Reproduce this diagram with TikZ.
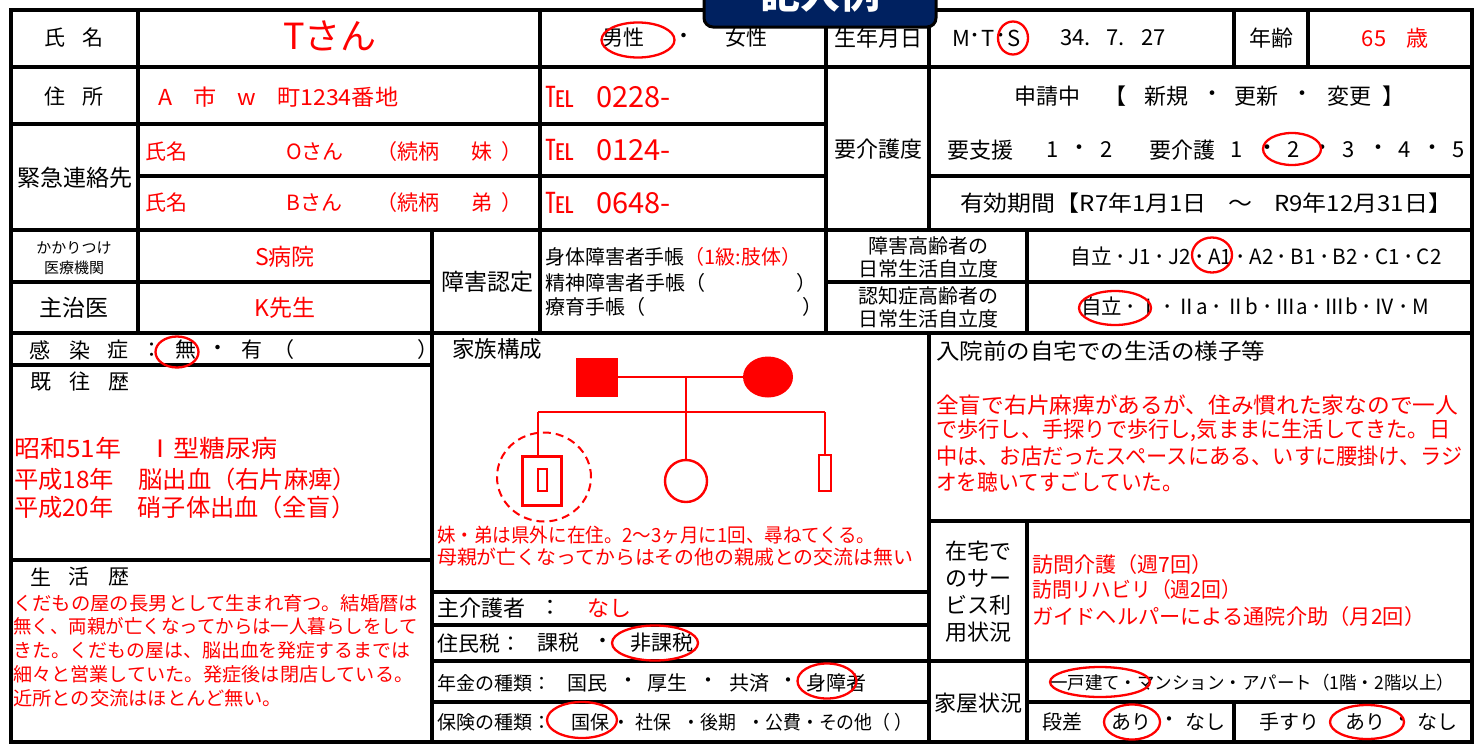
\documentclass[tikz,border=0pt]{standalone}
\usepackage{fontspec}
\usepackage{graphicx}
\setmainfont{Noto Sans CJK JP}
\usetikzlibrary{shapes.geometric}
\definecolor{rd}{RGB}{255,0,0}
\definecolor{navy}{RGB}{0,33,96}
\newcommand{\fsz}[1]{\fontsize{#1pt}{#1pt}\selectfont}
\newcommand{\fsl}[2]{\fontsize{#1pt}{#2pt}\selectfont}
\newcommand{\fw}[2]{\resizebox{#1pt}{\height}{#2}}
\begin{document}
\begin{tikzpicture}[x=1pt,y=-1pt,
 bk/.style={inner sep=0pt,text=black},
 rt/.style={inner sep=0pt,text=rd},
 oval/.style={ellipse,draw=rd,line width=2.3pt,inner sep=0pt},
 grid/.style={line width=3.2pt,line cap=rect},
 geno/.style={draw=rd,line width=2.4pt},
]
\useasboundingbox (0,0) rectangle (1482,744);
\fill[white] (0,0) rectangle (1482,744);
\begin{scope}
\clip (0,0) rectangle (1482,744);
% ---------- grid ----------
\draw[grid] (11,67) -- (1472,67);
\draw[grid] (11,124) -- (826,124);
\draw[grid] (138,176) -- (826,176);
\draw[grid] (929,176) -- (1472,176);
\draw[grid] (11,230) -- (1472,230);
\draw[grid] (11,282) -- (432,282);
\draw[grid] (826,282) -- (1472,282);
\draw[grid] (11,333) -- (1472,333);
\draw[grid] (138,10) -- (138,333);
\draw[grid] (540,10) -- (540,333);
\draw[grid] (826,10) -- (826,333);
\draw[grid] (929,10) -- (929,230);
\draw[grid] (1027,230) -- (1027,333);
\draw[grid] (1234,10) -- (1234,67);
\draw[grid] (1308,10) -- (1308,67);
\draw[grid] (432,230) -- (432,742);
\draw[grid] (929,333) -- (929,742);
\draw[grid] (11,365) -- (432,365);
\draw[grid] (11,560) -- (432,560);
\draw[grid] (432,592) -- (929,592);
\draw[grid] (432,625) -- (929,625);
\draw[grid] (432,661) -- (1472,661);
\draw[grid] (432,702) -- (929,702);
\draw[grid] (929,521) -- (1472,521);
\draw[grid] (1027,521) -- (1027,742);
\draw[grid] (1027,702) -- (1472,702);
\draw[grid] (1234,702) -- (1234,742);
\draw[line width=4.5pt] (11,10) rectangle (1472,742);
% ---------- row 1 ----------
\node[bk,font=\fsz{21}] (lname) at (74,38) {氏\hspace{17pt}名};
\node[rt,font=\fsz{36}] (vname) at (330,36) {Tさん};
\node[bk,font=\fsz{21}] (male) at (623,38) {男性};
\node[bk,font=\fsz{21}] (dotmf) at (684,38) {・};
\node[bk,font=\fsz{21}] (female) at (746,38) {女性};
\node[oval,minimum width=73,minimum height=35] (omale) at (638,40) {};
\node[bk,font=\fsz{22}] (lbirth) at (878,38) {生年月日};
\node[bk,font=\fsz{22}] (eraM) at (961,38) {M};
\node[bk,font=\fsz{22}] (eraD1) at (975,38) {･};
\node[bk,font=\fsz{22}] (eraT) at (988,38) {T};
\node[bk,font=\fsz{22}] (eraD2) at (1001,38) {･};
\node[bk,font=\fsz{22}] (eraS) at (1014,38) {S};
\node[oval,minimum width=30,minimum height=33] (oS) at (1013,38) {};
\node[bk,font=\fsz{22},anchor=west] (bdate) at (1060,38) {34.\hspace{16pt}7.\hspace{16pt}27};
\node[bk,font=\fsz{22}] (lage) at (1271,38) {年齢};
\node[rt,font=\fsz{22}] (age) at (1395,38) {65\hspace{20pt}歳};
% ---------- row 2-4 ----------
\node[bk,font=\fsz{21}] (laddr) at (74,97) {住\hspace{17pt}所};
\node[rt,font=\fsz{22},anchor=west] (addr) at (158,97) {\fw{240}{A\hspace{20pt}市\hspace{20pt}w\hspace{20pt}町1234番地}};
\node[rt,font=\fsz{29},anchor=west] (tel1) at (545,97) {℡\hspace{22pt}0228-};
\node[bk,font=\fsz{23}] (lemg) at (75,178) {緊急連絡先};
\node[rt,font=\fsz{21},anchor=west] (e1n) at (145,152) {氏名};
\node[rt,font=\fsz{21},anchor=west] (e1v) at (286,152) {Oさん};
\node[rt,font=\fsz{21},anchor=west] (e1r) at (376,152) {（続柄};
\node[rt,font=\fsz{21}] (e1s) at (482,152) {妹};
\node[rt,font=\fsz{21}] (e1c) at (512,152) {）};
\node[rt,font=\fsz{29},anchor=west] (tel2) at (545,150) {℡\hspace{22pt}0124-};
\node[rt,font=\fsz{21},anchor=west] (e2n) at (145,203) {氏名};
\node[rt,font=\fsz{21},anchor=west] (e2v) at (286,203) {Bさん};
\node[rt,font=\fsz{21},anchor=west] (e2r) at (376,203) {（続柄};
\node[rt,font=\fsz{21}] (e2s) at (482,203) {弟};
\node[rt,font=\fsz{21}] (e2c) at (512,203) {）};
\node[rt,font=\fsz{29},anchor=west] (tel3) at (545,203) {℡\hspace{22pt}0648-};
\node[bk,font=\fsz{22}] (lcare) at (878,149) {要介護度};
\foreach \x/\t/\n in {1047/申請中/a,1115/【/b,1166/新規/c,1212/・/d,1256/更新/e,1302/・/f,1349/変更/g,1393/】/h}
  \node[bk,font=\fsz{22}] (sh\n) at (\x,96) {\t};
\foreach \x/\t/\n in {980/要支援/a,1053/1/b,1079/・/c,1107/2/d,1182/要介護/e,1237/1/f,1267/・/g,1294/2/h,1322/・/i,1349/3/j,1378/・/k,1405/4/l,1432/・/m,1459/5/n}
  \node[bk,font=\fsz{22}] (ks\n) at (\x,150) {\t};
\node[oval,minimum width=58,minimum height=32] (ocare) at (1292,149) {};
\node[bk,font=\fsz{22}] (valid) at (1206,203) {\fw{492}{有効期間【R7年1月1日\hspace{20pt}～\hspace{20pt}R9年12月31日】}};
% ---------- row 5-6 ----------
\node[bk,font=\fsl{15}{20},align=center] (lclinic) at (74,258) {かかりつけ\\医療機関};
\node[rt,font=\fsz{23}] (clinic) at (285,257) {S病院};
\node[bk,font=\fsz{23}] (ldoc) at (74,308) {主治医};
\node[rt,font=\fsz{23}] (doc) at (285,308) {K先生};
\node[bk,font=\fsz{23}] (ldis) at (487,282) {障害認定};
\node[bk,font=\fsz{20},anchor=west] (h1) at (545,257) {\fw{256}{身体障害者手帳{\color{rd}（1級:肢体）}}};
\node[bk,font=\fsz{20},anchor=west] (h2) at (545,283) {精神障害者手帳（};
\node[bk,font=\fsz{20}] (h2c) at (806,283) {）};
\node[bk,font=\fsz{20},anchor=west] (h3) at (545,307) {療育手帳（};
\node[bk,font=\fsz{20}] (h3c) at (812,307) {）};
\node[bk,font=\fsl{20}{23},align=center] (lphy) at (928,257) {障害高齢者の\\日常生活自立度};
\node[bk,font=\fsl{20}{23},align=center] (ldem) at (928,307) {認知症高齢者の\\日常生活自立度};
\node[bk,font=\fsz{21}] (phy) at (1256,257) {\fw{371}{自立\,･\,J1\,･\,J2\,･\,A1\,･\,A2\,･\,B1\,･\,B2\,･\,C1\,･\,C2}};
\node[oval,minimum width=40,minimum height=35] (oA1) at (1212,255) {};
\node[bk,font=\fsz{21}] (dem) at (1255,307) {\fw{348}{自立\,･\,Ⅰ\,･\,Ⅱa\,･\,Ⅱb\,･\,Ⅲa\,･\,Ⅲb\,･\,Ⅳ\,･\,M}};
\node[oval,minimum width=72,minimum height=34] (ojiritsu) at (1115,308) {};
% ---------- lower left ----------
\foreach \x/\t/\n in {40/感/a,80/染/b,118/症/c,152/：/d,186/無/e,218/・/f,252/有/g,284/（/h,428/）/i}
  \node[bk,font=\fsz{21}] (inf\n) at (\x,350) {\t};
\node[oval,minimum width=43,minimum height=31] (onone) at (177,352) {};
\foreach \x/\t/\n in {41/既/a,80/往/b,119/歴/c}
  \node[bk,font=\fsz{21}] (hx\n) at (\x,382) {\t};
\node[rt,font=\fsz{24},anchor=west] (k1) at (14,448) {\fw{263}{昭和51年　Ⅰ型糖尿病}};
\node[rt,font=\fsz{24},anchor=west] (k2) at (14,479) {\fw{343}{平成18年　脳出血（右片麻痺）}};
\node[rt,font=\fsz{24},anchor=west] (k3) at (14,507) {\fw{341}{平成20年　硝子体出血（全盲）}};
\foreach \x/\t/\n in {41/生/a,79/活/b,119/歴/c}
  \node[bk,font=\fsz{21}] (lh\n) at (\x,577) {\t};
\node[rt,font=\fsz{19},anchor=west] (p1) at (13,603) {\fw{405}{くだもの屋の長男として生まれ育つ。結婚暦は}};
\node[rt,font=\fsz{19},anchor=west] (p2) at (13,626) {\fw{405}{無く、両親が亡くなってからは一人暮らしをして}};
\node[rt,font=\fsz{19},anchor=west] (p3) at (13,650) {\fw{397}{きた。くだもの屋は、脳出血を発症するまでは}};
\node[rt,font=\fsz{19},anchor=west] (p4) at (13,674) {\fw{400}{細々と営業していた。発症後は閉店している。}};
\node[rt,font=\fsz{19},anchor=west] (p5) at (13,698) {\fw{269}{近所との交流はほとんど無い。}};
% ---------- family ----------
\node[bk,font=\fsz{22.5},anchor=west] (lfam) at (452,349) {家族構成};
\node[fill=rd,minimum width=42,minimum height=39,inner sep=0pt] (fa) at (597,377) {};
\node[ellipse,fill=rd,minimum width=50,minimum height=41,inner sep=0pt] (mo) at (768,377) {};
\coordinate (j1) at (686,377);
\coordinate (sl) at (538,412);
\coordinate (sr) at (825,412);
\node[geno,minimum width=39,minimum height=49,inner sep=0pt] (me) at (542,481) {};
\node[geno,minimum width=9,minimum height=22,inner sep=0pt] (mein) at (542.5,480) {};
\node[ellipse,draw=rd,line width=2pt,dash pattern=on 8pt off 5pt,minimum width=94,minimum height=89,inner sep=0pt] (mering) at (544,477) {};
\node[geno,circle,minimum size=42,inner sep=0pt] (sis) at (686,481) {};
\node[geno,minimum width=12,minimum height=36,inner sep=0pt] (bro) at (825,473) {};
\draw[geno] (fa.east) -- (mo.west);
\draw[geno] (j1) -- (sis.north);
\draw[geno] (sl) -- (sr);
\draw[geno] (sl) -- (sl |- me.north);
\draw[geno] (sr) -- (bro.north);
\node[rt,font=\fsz{19.5},anchor=west] (f1) at (437,535) {\fw{438}{妹・弟は県外に在住。2～3ヶ月に1回、尋ねてくる。}};
\node[rt,font=\fsz{19.5},anchor=west] (f2) at (437,557) {\fw{476}{母親が亡くなってからはその他の親戚との交流は無い}};
% ---------- middle lower ----------
\node[bk,font=\fsz{22},anchor=west] (lcg) at (437,608) {主介護者};
\node[bk,font=\fsz{22}] (lcgc) at (550,608) {：};
\node[rt,font=\fsz{22}] (cg) at (609,608) {なし};
\node[bk,font=\fsz{21},anchor=west] (ltax) at (437,643) {住民税：};
\node[bk,font=\fsz{21}] (tax1) at (558,643) {課税};
\node[bk,font=\fsz{21}] (taxd) at (603,643) {・};
\node[bk,font=\fsz{21}] (tax2) at (662,643) {非課税};
\node[oval,minimum width=86,minimum height=35] (otax) at (655,643) {};
\node[bk,font=\fsz{19},anchor=west] (lpen) at (437,683) {年金の種類：};
\foreach \x/\t/\n in {587/国民/a,628/・/b,667/厚生/c,708/・/d,749/共済/e,788/・/f,836/身障者/g}
  \node[bk,font=\fsz{20}] (pen\n) at (\x,683) {\t};
\node[oval,minimum width=59,minimum height=35] (open) at (827,681) {};
\node[bk,font=\fsz{19},anchor=west] (lins) at (437,722) {保険の種類：};
\node[bk,font=\fsz{19}] (insa) at (590,722) {国保};
\node[bk,font=\fsz{19},anchor=west] (insb) at (612,722) {\fw{300}{・\hspace{6pt}社保\hspace{12pt}・後期\hspace{12pt}・公費・その他（\hspace{4pt}）}};
\node[oval,minimum width=70,minimum height=36] (oins) at (582,720) {};
% ---------- right lower ----------
\node[bk,font=\fsz{22},anchor=west] (lhome) at (936,351) {\fw{329}{入院前の自宅での生活の様子等}};
\node[rt,font=\fsz{22},anchor=west] (r1) at (936,405) {\fw{522}{全盲で右片麻痺があるが、住み慣れた家なので一人}};
\node[rt,font=\fsz{22},anchor=west] (r2) at (936,430) {\fw{514}{で歩行し、手探りで歩行し,気ままに生活してきた。日}};
\node[rt,font=\fsz{22},anchor=west] (r3) at (936,456) {\fw{526}{中は、お店だったスペースにある、いすに腰掛け、ラジ}};
\node[rt,font=\fsz{22},anchor=west] (r4) at (936,482) {\fw{247}{オを聴いてすごしていた。}};
\node[bk,font=\fsl{22}{27},align=center] (lsvc) at (978,592) {在宅で\\のサー\\ビス利\\用状況};
\node[rt,font=\fsz{21},anchor=west] (s1) at (1032,565) {\fw{180}{訪問介護（週7回）}};
\node[rt,font=\fsz{21},anchor=west] (s2) at (1032,590) {\fw{209}{訪問リハビリ（週2回）}};
\node[rt,font=\fsz{21},anchor=west] (s3) at (1032,617) {\fw{393}{ガイドヘルパーによる通院介助（月2回）}};
\node[bk,font=\fsz{22}] (lhouse) at (978,703) {家屋状況};
\node[bk,font=\fsz{18}] (house) at (1252,683) {\fw{404}{一戸建て・マンション・アパート（1階・2階以上）}};
\node[oval,minimum width=100,minimum height=30] (ohouse) at (1100,682) {};
\foreach \x/\t/\n in {1062/段差/a,1131/あり/b,1169/・/c,1205/なし/d,1289/手すり/e,1365/あり/f,1402/・/g,1437/なし/h}
  \node[bk,font=\fsz{20}] (hs\n) at (\x,722) {\t};
\node[oval,minimum width=56,minimum height=35] (ostep) at (1132,722) {};
\node[oval,minimum width=74,minimum height=34] (orail) at (1367,722) {};
% ---------- stamp ----------
\node[draw=black,line width=3pt,fill=navy,rounded corners=9pt,minimum width=232,minimum height=64,inner sep=0pt] (stamp) at (820,-5) {};
\node[anchor=base,text=white,font=\fsz{40}\bfseries,inner sep=0pt] (stampt) at (820,9) {記入例};
\end{scope}
\end{tikzpicture}
\end{document}
